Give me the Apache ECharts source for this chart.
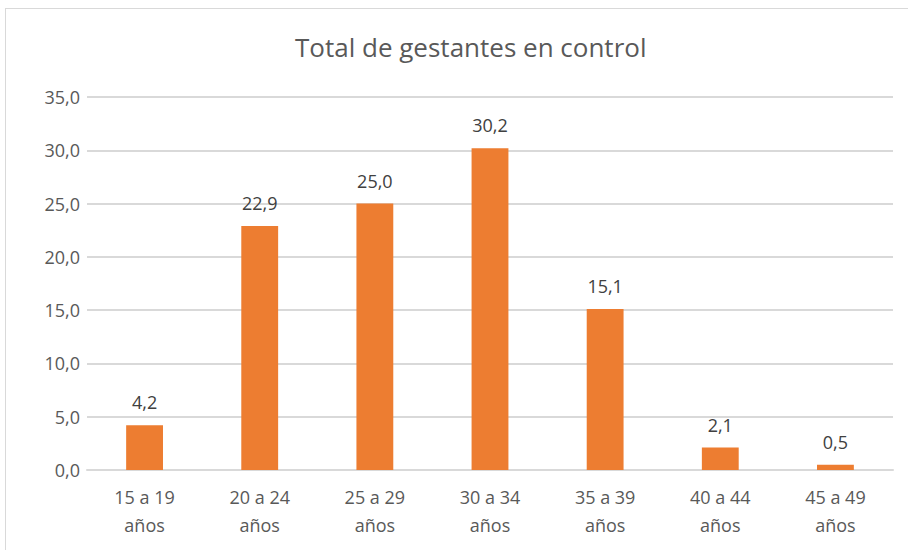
<!DOCTYPE html>
<html>
<head>
<meta charset="utf-8">
<script src="https://cdn.jsdelivr.net/npm/echarts@6/dist/echarts.min.js"></script>
<style>
  html, body { margin: 0; padding: 0; background: #fff; }
  #frame { position: absolute; left: 5px; top: 8px; width: 920px; height: 560px;
           border-left: 1px solid #d9d9d9; border-top: 1px solid #d9d9d9; }
  #chart { position: absolute; left: 0; top: 0; width: 908px; height: 550px; }
</style>
</head>
<body>
<div id="frame"></div>
<div id="chart"></div>
<script>
var categories = ['15 a 19\naños', '20 a 24\naños', '25 a 29\naños', '30 a 34\naños', '35 a 39\naños', '40 a 44\naños', '45 a 49\naños'];
var values = [4.2, 22.9, 25.0, 30.2, 15.1, 2.1, 0.5];
var yMax = 35;
var yStep = 5;

var font = '"Open Sans", sans-serif';
var chart = echarts.init(document.getElementById('chart'), null, { renderer: 'svg' });
chart.setOption({
  animation: false,
  title: {
    text: 'Total de gestantes en control',
    left: 290,
    top: 29,
    textStyle: { color: '#595959', fontSize: 26, fontWeight: 'normal', fontFamily: font }
  },
  grid: { left: 87, right: 15, top: 97, bottom: 80 },
  xAxis: {
    type: 'category',
    data: categories,
    axisLine: { lineStyle: { color: '#d9d9d9', width: 2 } },
    axisTick: { show: false },
    axisLabel: { color: '#595959', fontSize: 18, fontFamily: font, lineHeight: 28, margin: 13 }
  },
  yAxis: {
    type: 'value',
    min: 0,
    max: yMax,
    interval: yStep,
    axisLabel: {
      color: '#595959', fontSize: 18, fontFamily: font, margin: 7,
      formatter: function(v) { return v.toFixed(1).replace('.', ','); }
    },
    splitLine: { lineStyle: { color: '#d9d9d9', width: 2 } },
    axisLine: { show: false },
    axisTick: { show: false }
  },
  series: [{
    type: 'bar',
    data: values,
    barWidth: '32%',
    itemStyle: { color: '#ed7d31' },
    label: {
      show: true,
      position: 'top',
      distance: 14,
      color: '#404040',
      fontSize: 18,
      fontFamily: font,
      formatter: function(p) { return p.value.toFixed(1).replace('.', ','); }
    }
  }]
});
</script>
</body>
</html>
